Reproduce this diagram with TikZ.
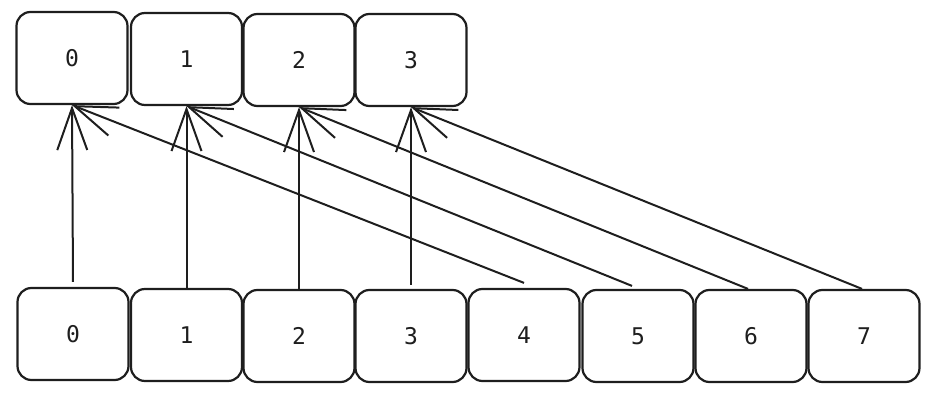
\documentclass[tikz,border=0pt]{standalone}
\usepackage{fontspec}
\usepackage{tikz}
\usetikzlibrary{arrows.meta}
\newfontfamily\digitfont{DejaVu Sans Mono}
\definecolor{inkgray}{RGB}{30,30,30}

\begin{document}
\begin{tikzpicture}[x=0.5pt, y=-0.5pt,
            cell/.style={draw=inkgray, line width=1.1pt, rounded corners=7pt, fill=white,
                minimum width=55.5pt, minimum height=46pt, inner sep=0pt,
                font=\digitfont\fontsize{11.5}{13}\selectfont, text=inkgray},
            link/.style={draw=inkgray, line width=1pt,
                -{Straight Barb[length=21pt, width=15pt, line width=1pt]}}
        ]
            \useasboundingbox (0,0) rectangle (949,395);

            % Target row
            \node (t0) at (72,58) [cell] {0};
            \node (t1) at (186.5,59) [cell] {1};
            \node (t2) at (299,60) [cell] {2};
            \node (t3) at (411,60) [cell] {3};

            % Source row
            \node (b0) at (73,334) [cell] {0};
            \node (b1) at (186.5,335) [cell] {1};
            \node (b2) at (299,336) [cell] {2};
            \node (b3) at (411,336) [cell] {3};
            \node (b4) at (524,335) [cell] {4};
            \node (b5) at (638,336) [cell] {5};
            \node (b6) at (751,336) [cell] {6};
            \node (b7) at (864,336) [cell] {7};

            % Straight links
            \draw [link] ([yshift=2.5pt]b0.north) -- (t0.south);
            \draw [link] (b1.north) -- (t1.south);
            \draw [link] (b2.north) -- (t2.south);
            \draw [link] ([yshift=2pt]b3.north) -- (t3.south);

            % Folded links
            \draw [link] ([yshift=2.5pt]b4.north) -- (t0.south);
            \draw [link] ([xshift=-3pt, yshift=1.5pt]b5.north) -- (t1.south);
            \draw [link] ([xshift=-1.5pt]b6.north) -- (t2.south);
            \draw [link] ([xshift=-1pt]b7.north) -- (t3.south);
        \end{tikzpicture}
\end{document}
